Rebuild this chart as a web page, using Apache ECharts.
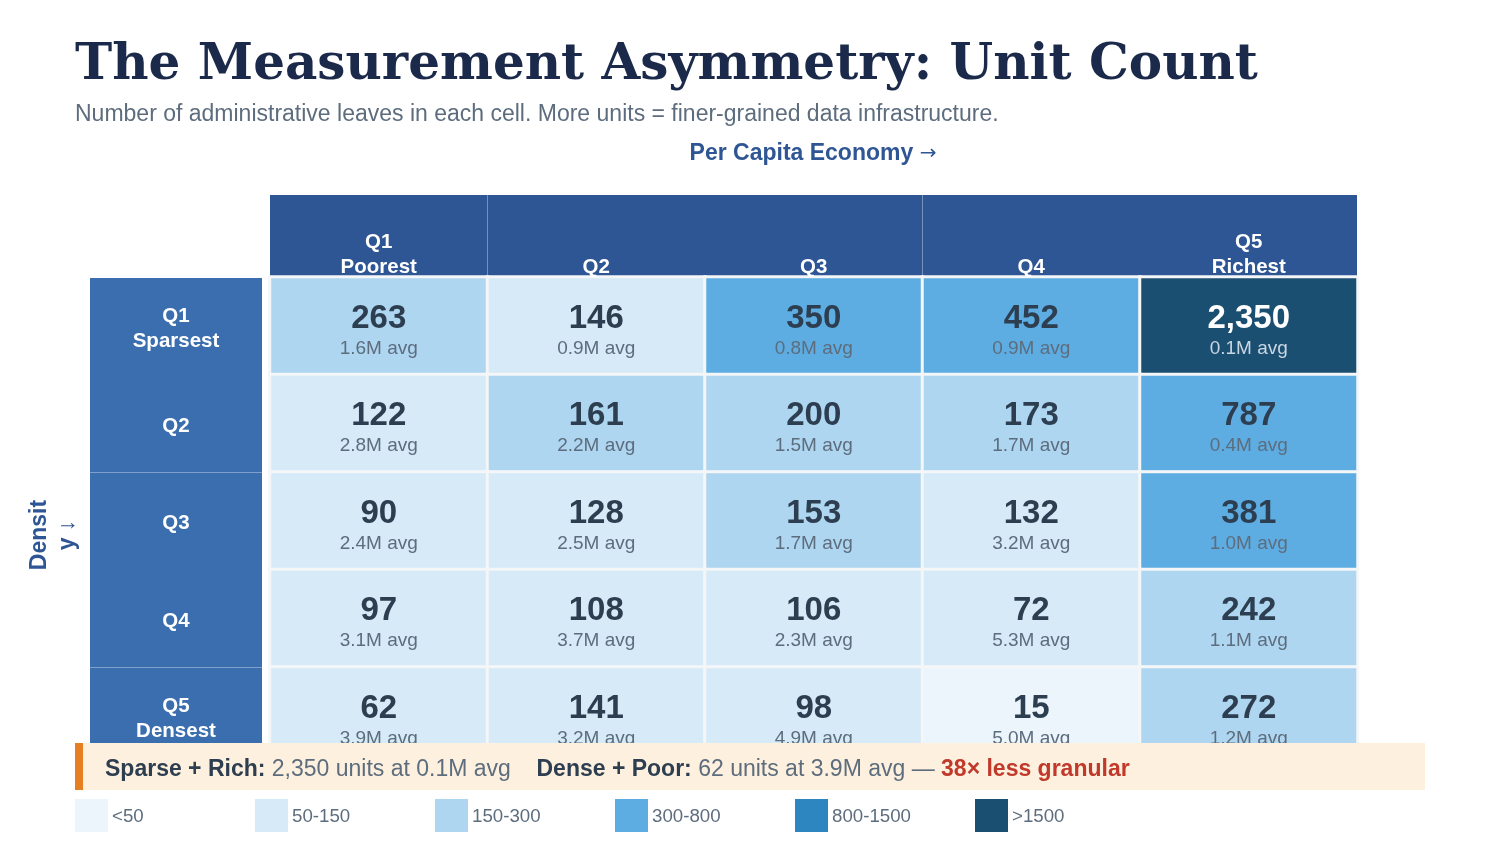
<!DOCTYPE html>
<html>
<head>
<meta charset="utf-8">
<title>The Measurement Asymmetry: Unit Count</title>
<script src="https://cdn.jsdelivr.net/npm/echarts@6/dist/echarts.min.js"></script>
<style>
  html, body { margin: 0; padding: 0; background: #fff; }
  #chart { width: 1500px; height: 844px; }
</style>
</head>
<body>
<div id="chart"></div>
<script>
// columns: per capita economy quintiles, rows: density quintiles
var econLabels = ['Q1\nPoorest', 'Q2', 'Q3', 'Q4', 'Q5\nRichest']
var densityLabels = ['Q1\nSparsest', 'Q2', 'Q3', 'Q4', 'Q5\nDensest']

// number of administrative units per cell (row = density quintile)
var unitCount = [
  [263, 146, 350, 452, 2350],
  [122, 161, 200, 173, 787],
  [90, 128, 153, 132, 381],
  [97, 108, 106, 72, 242],
  [62, 141, 98, 15, 272]
]
// average population per unit, millions
var avgPop = [
  [1.6, 0.9, 0.8, 0.9, 0.1],
  [2.8, 2.2, 1.5, 1.7, 0.4],
  [2.4, 2.5, 1.7, 3.2, 1.0],
  [3.1, 3.7, 2.3, 5.3, 1.1],
  [3.9, 3.2, 4.9, 5.0, 1.2]
]

var binLabels = ['<50', '50-150', '150-300', '300-800', '800-1500', '>1500']
var binEdges = [0, 50, 150, 300, 800, 1500, Infinity]
var binColors = ['#ebf5fb', '#d6eaf8', '#aed6f1', '#5dade2', '#2e86c1', '#1b4f72']

var SANS = '"Liberation Sans", Arial, "Noto Sans", sans-serif'

var cells = []
for (var r = 0; r < unitCount.length; r++) {
  for (var c = 0; c < unitCount[r].length; c++) {
    cells.push([c, r, unitCount[r][c], avgPop[r][c]])
  }
}

var pieces = binLabels.map(function (lab, i) {
  var p = { label: lab, color: binColors[i] }
  p.gte = binEdges[i]
  if (isFinite(binEdges[i + 1])) p.lt = binEdges[i + 1]
  return p
})

// legend swatches at a fixed pitch
var legendItems = []
binLabels.forEach(function (lab, i) {
  legendItems.push({
    type: 'rect',
    shape: { x: 75 + i * 180, y: 799, width: 33, height: 33 },
    style: { fill: binColors[i] }
  })
  legendItems.push({
    type: 'text',
    x: 112 + i * 180, y: 816.5,
    style: { text: lab, font: '18.7px ' + SANS, fill: '#5d6d7e', verticalAlign: 'middle' }
  })
})

var chart = echarts.init(document.getElementById('chart'))

var option = {
  backgroundColor: '#ffffff',
  animation: false,
  grid: { left: 270, top: 277, width: 1087.5, height: 487.5 },
  xAxis: {
    type: 'category',
    position: 'top',
    data: econLabels,
    axisLine: { show: false },
    axisTick: { show: false },
    splitLine: { show: false },
    axisLabel: {
      color: '#ffffff',
      fontFamily: SANS,
      fontWeight: 'bold',
      fontSize: 20.5,
      lineHeight: 25,
      margin: -3
    },
    z: 5
  },
  yAxis: {
    type: 'category',
    inverse: true,
    data: densityLabels,
    axisLine: { show: false },
    axisTick: { show: false },
    splitLine: { show: false },
    axisLabel: {
      align: 'center',
      margin: 94,
      // small empty first line nudges the text block down a little
      formatter: function (v) {
        return '{g|}\n' + v.split('\n').map(function (l) { return '{t|' + l + '}' }).join('\n')
      },
      rich: {
        g: { lineHeight: 6, fontSize: 6 },
        t: { color: '#ffffff', fontFamily: SANS, fontWeight: 'bold', fontSize: 20.5, lineHeight: 25 }
      }
    },
    z: 5
  },
  visualMap: {
    type: 'piecewise',
    show: false,
    dimension: 2,
    seriesIndex: 0,
    pieces: pieces
  },
  series: [{
    type: 'heatmap',
    data: cells,
    itemStyle: { borderColor: '#f4f6f8', borderWidth: 3 },
    emphasis: { disabled: true },
    label: {
      show: true,
      offset: [0, 8],
      formatter: function (p) {
        var v = p.data[2].toLocaleString('en-US')
        var s = p.data[3].toFixed(1) + 'M avg'
        if (p.data[2] >= 1500) return '{vw|' + v + '}\n{sw|' + s + '}'
        return '{v|' + v + '}\n{s|' + s + '}'
      },
      rich: {
        v: { fontFamily: SANS, fontWeight: 'bold', fontSize: 33, color: '#2c3e50', lineHeight: 30 },
        s: { fontFamily: SANS, fontSize: 19, color: '#5d6d7e', lineHeight: 30 },
        vw: { fontFamily: SANS, fontWeight: 'bold', fontSize: 33, color: '#ffffff', lineHeight: 30 },
        sw: { fontFamily: SANS, fontSize: 19, color: '#c9d6e3', lineHeight: 30 }
      }
    }
  }],
  graphic: [
    {
      type: 'text', x: 75, y: 66, z: 10,
      style: {
        text: 'The Measurement Asymmetry: Unit Count',
        font: 'bold 50px "DejaVu Serif", serif',
        fill: '#1b2a4a', verticalAlign: 'middle'
      }
    },
    {
      type: 'text', x: 75, y: 115, z: 10,
      style: {
        text: 'Number of administrative leaves in each cell. More units = finer-grained data infrastructure.',
        font: '23px ' + SANS, fill: '#5d6d7e', verticalAlign: 'middle'
      }
    },
    {
      type: 'text', x: 813, y: 154, z: 10,
      style: {
        text: '{t|Per Capita Economy }{a|\u2192}',
        align: 'center', verticalAlign: 'middle',
        rich: {
          t: { fontFamily: SANS, fontWeight: 'bold', fontSize: 23, fill: '#2e5594' },
          a: { fontFamily: '"DejaVu Sans"', fontSize: 20, fill: '#2e5594' }
        }
      }
    },
    {
      type: 'text', x: 54, y: 535, rotation: Math.PI / 2, z: 10,
      style: {
        text: 'Densit\ny \u2193',
        font: 'bold 23px ' + SANS, fill: '#2e5594', align: 'center', verticalAlign: 'middle',
        lineHeight: 28
      }
    },
    // header bands
    { type: 'rect', z: -10, shape: { x: 270, y: 195, width: 1087, height: 81 }, style: { fill: '#2e5594' } },
    { type: 'rect', z: -9, shape: { x: 487, y: 195, width: 1, height: 81 }, style: { fill: 'rgba(255,255,255,0.35)' } },
    { type: 'rect', z: -9, shape: { x: 922, y: 195, width: 1, height: 81 }, style: { fill: 'rgba(255,255,255,0.35)' } },
    { type: 'rect', z: -10, shape: { x: 90, y: 278, width: 172, height: 465 }, style: { fill: '#3a6eae' } },
    { type: 'rect', z: -9, shape: { x: 90, y: 472, width: 172, height: 1 }, style: { fill: 'rgba(255,255,255,0.35)' } },
    { type: 'rect', z: -9, shape: { x: 90, y: 667, width: 172, height: 1 }, style: { fill: 'rgba(255,255,255,0.35)' } },
    // callout
    { type: 'rect', z: 100, shape: { x: 75, y: 743, width: 1350, height: 47 }, style: { fill: '#fef0de' } },
    { type: 'rect', z: 101, shape: { x: 75, y: 743, width: 8, height: 47 }, style: { fill: '#e67e22' } },
    {
      type: 'text', x: 105, y: 770, z: 102,
      style: {
        text: '{b|Sparse + Rich: }{n|2,350 units at 0.1M avg}{n|    }{b|Dense + Poor: }{n|62 units at 3.9M avg \u2014 }{r|38\u00d7 less granular}',
        verticalAlign: 'middle',
        rich: {
          b: { fontFamily: SANS, fontWeight: 'bold', fontSize: 23, fill: '#2c3e50' },
          n: { fontFamily: SANS, fontSize: 23, fill: '#5d6d7e' },
          r: { fontFamily: SANS, fontWeight: 'bold', fontSize: 23, fill: '#c0392b' }
        }
      }
    }
  ].concat(legendItems)
}

chart.setOption(option)
</script>
</body>
</html>
